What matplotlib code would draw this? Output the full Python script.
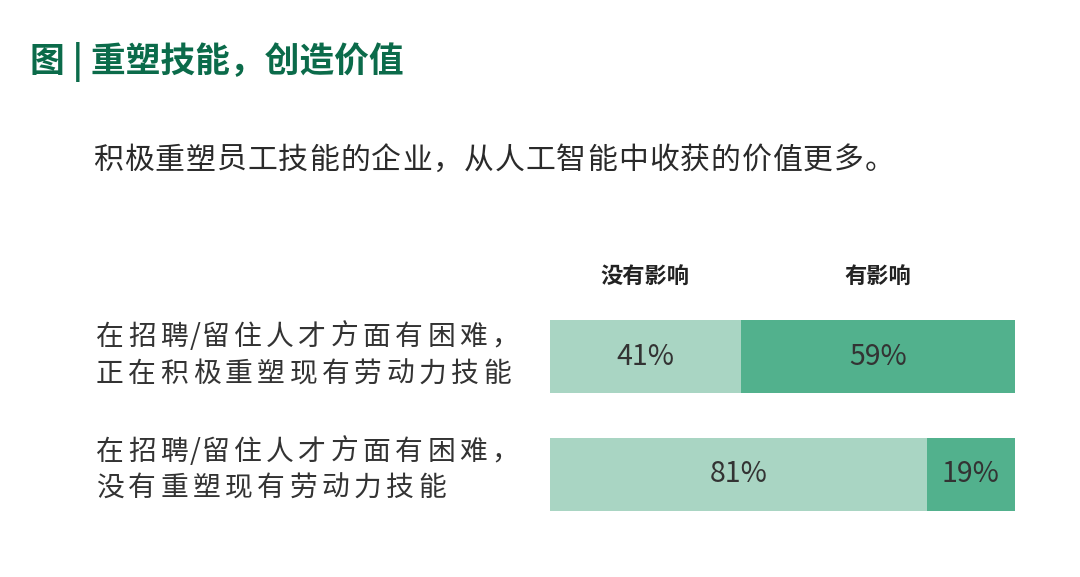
import matplotlib
matplotlib.use("Agg")
import matplotlib.pyplot as plt
from matplotlib.font_manager import FontProperties

plt.rcParams['font.family'] = ['Noto Sans CJK SC', 'DejaVu Sans']

title = "图 | 重塑技能，创造价值"
subtitle = "积极重塑员工技能的企业，从人工智能中收获的价值更多。"
categories = ["在招聘/留住人才方面有困难，\n正在积极重塑现有劳动力技能",
              "在招聘/留住人才方面有困难，\n没有重塑现有劳动力技能"]
series_names = ["没有影响", "有影响"]
no_impact = [41, 81]
impact = [59, 19]

light = "#a9d5c3"
dark = "#52b18d"

W, H = 1080, 577
fig = plt.figure(figsize=(W / 100, H / 100), dpi=100)
fig.patch.set_facecolor("white")
renderer = fig.canvas.get_renderer()


def fx(x):
    return x / W


def fy(y):
    return 1 - y / H


def tracked_text(x_px, baseline_px, s, size, tracking_px, color, weight="normal"):
    """Draw string s char by char with extra letter spacing (pixels).
    No extra spacing is added around ASCII punctuation such as '/'."""
    fp = FontProperties(family=['Noto Sans CJK SC', 'DejaVu Sans'], size=size, weight=weight)
    extra = 0.0
    for i, ch in enumerate(s):
        if i > 0 and not (ch == "/" or s[i - 1] == "/"):
            extra += tracking_px
        elif i > 0:
            extra += tracking_px * 0.25
        if ch == " ":
            continue
        w_prefix, _, _ = renderer.get_text_width_height_descent(s[:i + 1], fp, ismath=False)
        w_ch, _, _ = renderer.get_text_width_height_descent(ch, fp, ismath=False)
        left = x_px + (w_prefix - w_ch) + extra
        fig.text(fx(left), fy(baseline_px), ch, fontproperties=fp, color=color,
                 ha="left", va="baseline")


# Title and subtitle
fig.text(fx(30), fy(62), title, fontsize=25, fontweight="bold", color="#0b6b4a",
         ha="left", va="center")
tracked_text(93, 169, subtitle, 21.5, 1.0, "#2a2a2a")

# Bars axes
ax = fig.add_axes([fx(550), fy(511), fx(1015) - fx(550), (511 - 320) / H])
ypos = list(range(len(categories)))
bh = 0.62
ax.barh(ypos, no_impact, height=bh, color=light, edgecolor="none")
ax.barh(ypos, impact, left=no_impact, height=bh, color=dark, edgecolor="none")
ax.set_xlim(0, 100)
ax.set_ylim(len(categories) - 1 + 0.31, -0.31)
ax.axis("off")

for i in ypos:
    ax.text(no_impact[i] / 2, i, f"{no_impact[i]}%", ha="center", va="center",
            fontsize=20.5, color="#333333", fontweight="light")
    ax.text(no_impact[i] + impact[i] / 2, i, f"{impact[i]}%", ha="center", va="center",
            fontsize=20.5, color="#333333", fontweight="light")

# Column headers (above the bars, centered on first-row segments)
hy = -0.31 - 0.36
ax.text(no_impact[0] / 2, hy, series_names[0], ha="center", va="center",
        fontsize=16, fontweight="bold", color="#222222", clip_on=False)
ax.text(no_impact[0] + impact[0] / 2, hy, series_names[1], ha="center",
        va="center", fontsize=16, fontweight="bold", color="#222222", clip_on=False)

# Category labels (two lines each, with letter spacing)
label_baselines = [(345, 382), (460, 496)]
for i, cat in enumerate(categories):
    for line, base in zip(cat.split("\n"), label_baselines[i]):
        tracked_text(96, base, line, 20, 4.5, "#333333", weight="light")

fig.savefig("out.png", dpi=100, facecolor="white")
